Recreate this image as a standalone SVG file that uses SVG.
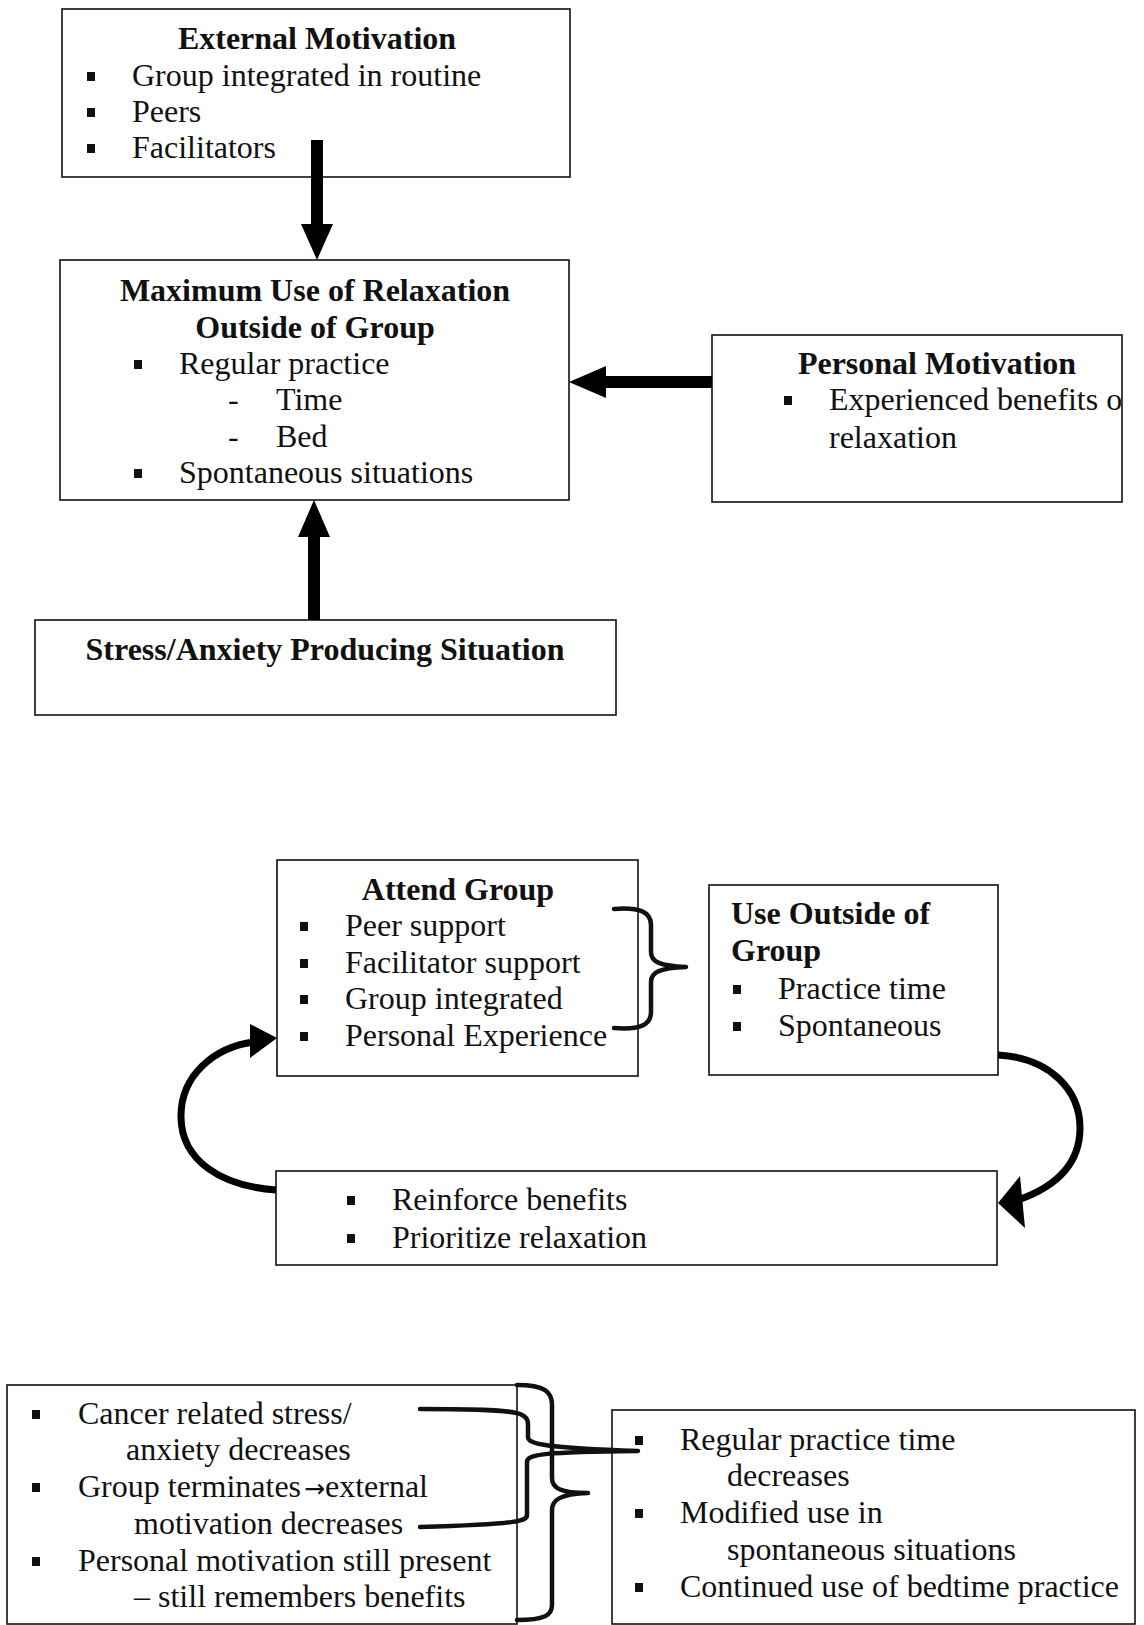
<svg xmlns="http://www.w3.org/2000/svg" width="1144" height="1625" viewBox="0 0 1144 1625">
<defs>
<style>
text{font-family:"Liberation Serif","Times New Roman",serif;font-size:32px;fill:#111}
.t{font-weight:bold}
.c{text-anchor:middle}
.arr{font-family:"DejaVu Sans",sans-serif;font-size:25px}
.box{fill:#fff;stroke:#111;stroke-width:1.6}
.ln{fill:none;stroke:#111;stroke-width:4.5;stroke-linecap:round;stroke-linejoin:round}
.cv{fill:none;stroke:#000;stroke-width:7}
.ah{fill:#000}
</style>
<rect id="b" x="-4" y="-14" width="8" height="9" fill="#111"/>
<clipPath id="clip3"><rect x="712" y="335" width="409" height="167"/></clipPath>
</defs>
<rect width="1144" height="1625" fill="#fff"/>

<g id="external-motivation">
<rect class="box" x="62" y="9" width="508" height="168"/>
<text class="t c" x="317" y="49">External Motivation</text>
<use href="#b" x="91" y="86"/><text x="132" y="86">Group integrated in routine</text>
<use href="#b" x="91" y="122"/><text x="132" y="122">Peers</text>
<use href="#b" x="91" y="158"/><text x="132" y="158">Facilitators</text>
</g>

<g id="maximum-use">
<rect class="box" x="60" y="260" width="509" height="240"/>
<text class="t c" x="315" y="301">Maximum Use of Relaxation</text>
<text class="t c" x="315" y="338">Outside of Group</text>
<use href="#b" x="138" y="374"/><text x="179" y="374">Regular practice</text>
<text x="228" y="410">-</text><text x="276" y="410">Time</text>
<text x="228" y="447">-</text><text x="276" y="447">Bed</text>
<use href="#b" x="138" y="483"/><text x="179" y="483">Spontaneous situations</text>
</g>

<g id="personal-motivation">
<rect class="box" x="712" y="335" width="410" height="167"/>
<text class="t c" x="937" y="374">Personal Motivation</text>
<use href="#b" x="788" y="410"/>
<text x="829" y="410" clip-path="url(#clip3)">Experienced benefits o</text>
<text x="829" y="448">relaxation</text>
</g>

<g id="stress-situation">
<rect class="box" x="35" y="620" width="581" height="95"/>
<text class="t c" x="325" y="660">Stress/Anxiety Producing Situation</text>
</g>

<g id="attend-group">
<rect class="box" x="277" y="860" width="361" height="216"/>
<text class="t c" x="458" y="900">Attend Group</text>
<use href="#b" x="304" y="936"/><text x="345" y="936">Peer support</text>
<use href="#b" x="304" y="973"/><text x="345" y="973">Facilitator support</text>
<use href="#b" x="304" y="1009"/><text x="345" y="1009">Group integrated</text>
<use href="#b" x="304" y="1046"/><text x="345" y="1046">Personal Experience</text>
</g>

<g id="use-outside">
<rect class="box" x="709" y="885" width="289" height="190"/>
<text class="t" x="731" y="924">Use Outside of</text>
<text class="t" x="731" y="961">Group</text>
<use href="#b" x="737" y="999"/><text x="778" y="999">Practice time</text>
<use href="#b" x="737" y="1036"/><text x="778" y="1036">Spontaneous</text>
</g>

<g id="reinforce">
<rect class="box" x="276" y="1171" width="721" height="94"/>
<use href="#b" x="351" y="1210"/><text x="392" y="1210">Reinforce benefits</text>
<use href="#b" x="351" y="1248"/><text x="392" y="1248">Prioritize relaxation</text>
</g>

<g id="after-group">
<rect class="box" x="7" y="1385" width="510" height="239"/>
<use href="#b" x="36" y="1424"/><text x="78" y="1424">Cancer related stress/</text>
<text x="126" y="1460">anxiety decreases</text>
<use href="#b" x="36" y="1497"/><text x="78" y="1497">Group terminates</text>
<text x="304" y="1497"><tspan class="arr">→</tspan>external</text>
<text x="134" y="1534">motivation decreases</text>
<use href="#b" x="36" y="1571"/><text x="78" y="1571">Personal motivation still present</text>
<text x="134" y="1607">– still remembers benefits</text>
</g>

<g id="outcome">
<rect class="box" x="612" y="1410" width="523" height="214"/>
<use href="#b" x="639" y="1450"/><text x="680" y="1450">Regular practice time</text>
<text x="727" y="1486">decreases</text>
<use href="#b" x="639" y="1523"/><text x="680" y="1523">Modified use in</text>
<text x="727" y="1560">spontaneous situations</text>
<use href="#b" x="639" y="1597"/><text x="680" y="1597">Continued use of bedtime practice</text>
</g>

<g id="connectors">
<rect class="ah" x="311" y="140" width="12" height="86"/>
<polygon class="ah" points="301,224 333,224 317,260"/>
<rect class="ah" x="604" y="376" width="108" height="12"/>
<polygon class="ah" points="606,366 606,398 569,382"/>
<rect class="ah" x="308" y="535" width="12" height="85"/>
<polygon class="ah" points="298,537 330,537 314,500"/>
<path class="ln" d="M614,909 C640,907 651,912 651,925 L651,952 C651,962 660,966 686,967 C660,968 651,972 651,982 L651,1012 C651,1025 640,1030 614,1028"/>
<path class="cv" d="M276,1190 C220,1186 182,1160 181,1118 C180,1075 215,1047 254,1042"/>
<polygon class="ah" points="277,1038 250,1024 250,1058"/>
<path class="cv" d="M998,1055 C1050,1058 1080,1090 1080,1128 C1080,1162 1058,1186 1018,1200"/>
<polygon class="ah" points="998,1203 1020,1176 1025,1228"/>
<path class="ln" d="M517,1385 C545,1385 552,1392 552,1405 L552,1478 C552,1488 560,1493 588,1493 C560,1494 552,1500 552,1510 L552,1605 C552,1615 545,1620 517,1620"/>
<path class="ln" d="M420,1409 C480,1409 510,1410 520,1414 C527,1417 528,1420 528,1425 L528,1437 C528,1444 545,1448 638,1451 C545,1452 527,1454 527,1462 L527,1515 C527,1521 520,1524 420,1527"/>
</g>
</svg>
